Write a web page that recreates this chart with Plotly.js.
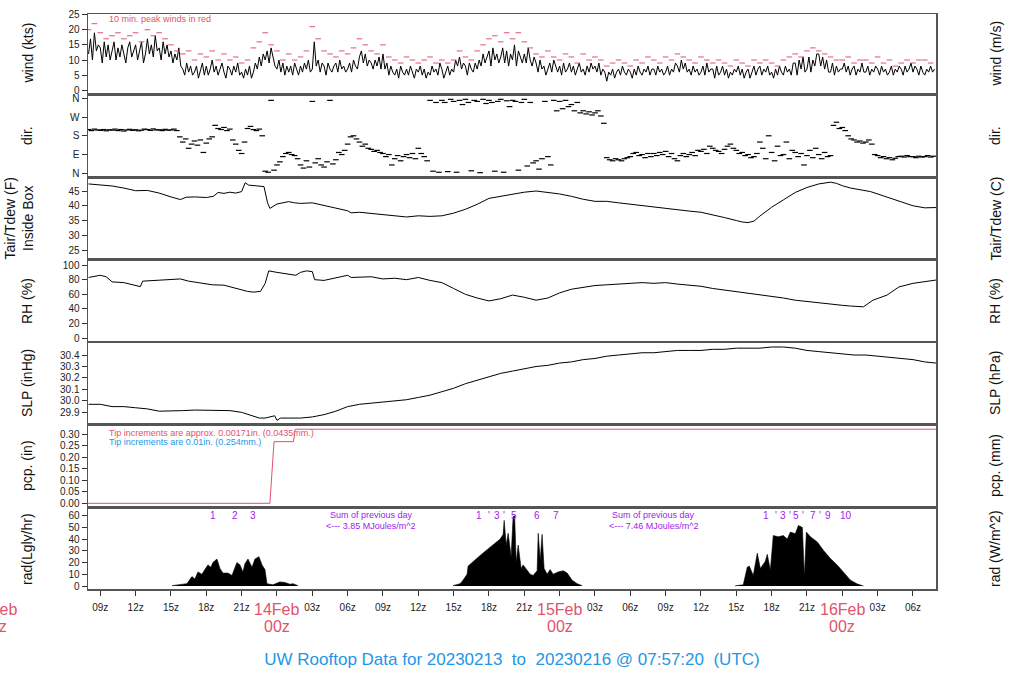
<!DOCTYPE html>
<html><head><meta charset="utf-8">
<script src="https://cdn.plot.ly/plotly-3.0.1.min.js"></script>
<style>html,body{margin:0;padding:0;background:#fff}#chart{width:1024px;height:700px}</style>
</head><body><div id="chart"></div>
<script>
// ---------- DATA (hours since 13 Feb 2023 00z) ----------
const xStart = 7.9556, xEnd = 79.9556;

const windT0 = 8, windDt = 1/6;
const windKts = [
 12,17,10,19,13,15, 14,9,16,11,15,10, 13,16,10,14,11,15, 12,9,14,16,11,13,
 15,10,13,16,9,12, 17,12,15,11,18,13, 14,10,16,12,15,11, 13,9,12,10,14,8,
 7,5,9,6,8,5, 6,8,4,7,9,5, 8,5,7,10,6,8, 5,7,9,6,4,8,
 7,5,8,6,9,5, 6,4,7,5,8,4, 6,9,7,11,8,12, 10,13,9,14,11,8,
 7,10,6,9,5,8, 6,8,5,9,7,5, 8,6,9,7,10,6, 7,16,8,10,6,9,
 8,5,9,7,6,8, 9,6,10,7,8,6, 7,9,6,10,8,7, 11,13,9,12,8,10,
 9,7,10,8,11,7, 12,7,9,5,8,6, 5,7,4,8,6,5, 7,5,8,6,4,7,
 6,8,5,7,4,6, 5,8,6,7,5,9, 7,4,6,8,5,7, 6,10,8,11,7,9,
 8,5,9,7,6,9, 7,10,8,12,9,11, 13,8,14,10,12,9, 11,14,9,13,8,12,
 10,15,8,13,11,9, 12,9,14,10,8,11, 9,6,10,7,8,5, 7,9,6,10,8,6,
 8,5,9,6,7,9, 6,8,5,7,9,6, 7,5,8,6,9,7, 8,6,9,5,7,6,
 3,6,5,7,4,6, 7,5,8,6,5,7, 6,4,7,5,8,6, 5,7,6,8,5,7,
 7,5,8,6,7,5, 6,8,5,7,6,9, 8,6,10,7,9,6, 7,5,8,6,7,5,
 6,8,5,9,6,7, 7,4,8,5,6,8, 5,7,4,6,5,7, 6,8,5,7,4,6,
 7,4,6,8,5,7, 8,5,7,6,8,5, 6,4,7,5,8,6, 5,8,6,7,5,9,
 9,5,10,7,11,6, 7,11,6,10,8,12, 12,8,11,7,10,6, 6,9,5,8,6,7,
 7,9,6,8,5,7, 8,5,7,6,9,6, 6,8,5,7,6,8, 7,5,8,6,7,5,
 6,8,5,7,6,8, 7,5,8,6,7,9, 6,8,7,5,8,6, 5,7,6,8,6,7
];

const peakT0 = 8, peakDt = 0.5;
const peakKts = [
 20,22, 19,17, 18,19, 17,18, 19,16, 20,18, 19,17, 15,13,
 12,13, 10,12, 11,13, 10,12, 10,11, 9,10, 14,16, 19,15,
 13,10, 12,10, 11,13, 21,17, 13,12, 11,13, 12,14, 17,15,
 13,12, 15,11, 10,9, 11,10, 9,10, 11,9, 10,9, 10,13,
 11,10, 13,15, 17,18, 16,19, 17,19, 16,14, 12,11, 13,11,
 10,12, 11,9, 12,10, 11,10, 8,9, 10,9, 8,10, 9,11,
 10,9, 11,10, 12,11, 10,9, 11,10, 9,10, 9,8, 10,9,
 8,10, 9,10, 9,8, 10,11, 12,11, 13,14, 13,12, 11,10,
 10,11, 9,10, 10,9, 11,9, 10,8, 9,10, 9,10, 10,9
];

const dirT0 = 8, dirDt = 0.25;
const dirDeg = [
 210,205,212,208, 206,210,204,209, 207,212,205,210, 203,208,211,206,
 209,204,207,212, 210,206,213,208, 209,205,211,207, 208,212,205,175,
 150,165,120,140, 155,135,160,100, 145,165,175,230, 215,210,220,205,
 212,160,140,110, 95,150,215,225, 210,205,212,180, 10,5,350,15,
 40,55,80,95, 100,90,85,70, 40,25,60,30, 345,50,70,40,
 30,55,350,45, 65,100,90,110, 140,175,180,165, 150,130,140,120,
 115,105,110,100, 95,80,90,40, 70,85,60,80, 90,75,95,70,
 120,95,80,60, 350,10,340,5, 350,340,8,355, 345,5,350,330,
 355,340,12,350, 345,3,355,335, 350,340,10,345, 355,5,348,320,
 350,345,15,340, 355,35,340,50, 60,20,70,345, 80,40,350,300,
 345,310,350,320, 330,300,340,290, 300,285,295,280, 290,300,275,240,
 75,65,60,70, 65,60,70,75, 80,95,100,85, 90,75,95,80,
 95,85,100,90, 105,80,95,70, 60,85,95,80, 90,100,85,110,
 105,115,95,130, 120,110,105,95, 115,130,140,120, 110,95,100,85,
 90,75,80,95, 150,120,70,180, 100,60,130,85, 90,150,70,110,
 100,80,95,40, 85,110,75,120, 90,70,100,80, 85,230,245,215,
 220,205,180,165, 160,150,155,145, 150,160,140,90, 85,75,80,70,
 75,65,72,80, 82,78,85,80, 80,75,82,78, 80,85,78,82
];

const tempHours = [8,9,10,11,12,13,14,15,15.8,16.3,17,18,18.6,19,19.5,20,20.5,21,21.3,21.6,22,22.5,22.9,23.2,23.4,24,25,25.5,26,27,28,29,30,30.3,31,32,33,34,35,36,37,38,39,40,41,42,43,44,45,46,47,48,49,50,51,52,53,54,55,56,57,58,59,60,61,62,63,63.5,64,64.5,65,66,67,68,69,70,71,71.5,72,72.7,74.4,76,77,78,79,79.95];
const tempF = [47.4,47.0,46.7,46.0,45.1,45.2,44.3,43.0,42.1,42.9,43.0,42.8,43.2,44.5,44.2,44.6,44.3,44.8,47.8,47.0,46.9,46.6,46.5,41.0,39.1,40.6,41.4,41.0,40.8,41.0,40.0,39.2,38.3,37.6,37.8,37.4,37.0,36.8,36.2,36.6,36.4,36.6,37.5,38.8,40.5,42.5,43.2,44.0,44.6,45.0,44.6,44.0,43.2,42.2,41.5,41.5,41.0,40.5,40.0,39.5,39.0,38.6,38.2,37.8,37.0,36.0,35.0,34.5,34.3,34.8,36.5,39.5,42.0,44.5,46.2,47.4,48.0,47.6,46.8,46.0,44.8,42.6,41.2,40.0,39.3,39.4];

const rhHours = [8,9,9.5,10,11,11.5,12.4,12.6,14,15,15.8,16.5,17.5,18.5,19.5,20.5,21.5,22,22.6,23.0,23.3,24,25,25.6,26,26.5,27.0,27.2,28,29,30,30.3,31,32,33,34,35,36,37,38,39,40,41,42,43,44,45,46,47,48,49,50,51,52,53,54,55,56,57,58,59,60,61,62,63,64,65,66,67,68,69,70,71,72,72.7,73.8,74.6,75.8,76.8,78,79.95];
const rhPct = [83,86,84,77,76,74,70.5,78,79,80,81,78,76,73,72.5,68,64,63,64,75,92,90,88,86,90,92,91,80,79,82,86,83,83,84,81,82,80,83,79,76,68,60,55,51,54,59,56,52,55,62,67,70,72,73,74,75,76,75,76,74,73,71,68,66,63,62,59,57,55,52,50,48,46,45,44,43,52,59,70,75,79.5];

const slpHours = [8,9,10,11,12,13,14,15,16,17,18,19,20,21,22,22.5,23,23.8,24,24.3,25,26,27,28,29,30,31,32,33,34,35,36,37,38,39,40,41,42,43,44,45,46,47,48,49,50,51,52,53,54,55,56,57,58,59,60,61,62,63,64,65,66,67,68,69,70,71,72,73,74,75,76,77,78,79,79.95];
const slpInHg = [29.97,29.97,29.95,29.95,29.94,29.93,29.91,29.91,29.915,29.92,29.92,29.915,29.915,29.90,29.87,29.85,29.85,29.87,29.83,29.85,29.85,29.85,29.86,29.88,29.91,29.95,29.97,29.98,29.99,30.00,30.01,30.03,30.05,30.08,30.11,30.15,30.18,30.21,30.24,30.26,30.28,30.30,30.31,30.33,30.34,30.36,30.37,30.39,30.40,30.41,30.42,30.42,30.43,30.44,30.44,30.44,30.45,30.45,30.46,30.46,30.46,30.47,30.47,30.46,30.44,30.43,30.42,30.41,30.40,30.40,30.39,30.38,30.37,30.36,30.34,30.33];

const pcpHours = [7.9556,23.4,23.75,25.4,25.55,79.9556];
const pcpIn = [0,0,0.268,0.268,0.322,0.322];

const radDay1Hours = [15.08,15.76,16.35,16.78,17.03,17.29,17.63,17.88,18.14,18.39,18.56,18.90,19.16,19.41,19.84,20.18,20.43,20.60,20.86,21.11,21.28,21.54,21.88,22.13,22.47,22.73,22.98,23.15,23.66,24.25,24.68,25.10,25.36,25.78];
const radDay1Ly = [0.3,1,2,8,6,12,10,14,18,16,20,23,15,11,11,9,15,20,18,12,19,23,16,23,25,18,14,2,1,3.5,3,1.5,2,0.3];
const radDay2Hours = [38.95,39.55,39.80,40.14,40.23,40.65,41.25,41.84,42.35,42.95,43.20,43.29,43.46,43.63,43.88,44.05,44.18,44.31,44.48,44.73,44.90,45.24,45.50,45.75,46.09,46.18,46.35,46.51,46.68,46.94,47.19,47.45,47.87,48.30,48.64,49.06,49.49,49.91];
const radDay2Ly = [0.3,2,5,10,17,21,26,31,35,40,44,56,35,45,25,59,60,20,35,15,18,14,10,9,13,45,22,44,15,10,14,10,12,13,11,5,2,0.3];
const radDay3Hours = [62.91,63.59,63.93,64.10,64.44,64.78,65.04,65.46,65.63,65.89,66.14,66.57,66.99,67.33,67.59,68.01,68.27,68.61,68.78,68.95,69.29,69.88,70.39,70.99,71.58,72.10,72.69,73.28,73.79];
const radDay3Ly = [0.2,1,16,17,9,28,15,21,27,13.5,43,42,43,40,46,44.6,51.6,50,8,46,42,37.5,30.5,23.4,17.8,12,5,1.7,0];

const xTickHours = [9,12,15,18,21,24,27,30,33,36,39,42,45,48,51,54,57,60,63,66,69,72,75,78];
const xTickLabels = ['09z','12z','15z','18z','21z','','03z','06z','09z','12z','15z','18z','21z','','03z','06z','09z','12z','15z','18z','21z','','03z','06z'];
const dateHours = [0,24,48,72];
const dateLabels = ['13Feb','14Feb','15Feb','16Feb'];

const radMarkHours = [18.56,20.4,21.96, 41.16,42.0,42.66,43.3,44.1,46.06,47.7, 65.52,66.4,67.0,67.6,68.1,68.7,69.5,70.1,70.8,72.3];
const radMarkLabels = ['1','2','3', '1',"'",'3',"'",'5','6','7', '1',"'",'3',"'",'5',"'",'7',"'",'9','10'];
const radSumHours = [32,56];
const radSumValues = ['3.85','7.46'];

// ---------- LAYOUT ----------
const seq = (t0, dt, n) => Array.from({length:n}, (_, i) => t0 + i*dt);
const RED = '#DF536B', BLUE = '#2297E6', PURPLE = '#A020F0';
const FONT = 'Liberation Sans, Arial, Helvetica, sans-serif';
const W = 1024, H = 700, ML = 88, MR = 88, MT = 14, MB = 111;
const plotH = H - MT - MB;
const panelTop = [14,96,179,261,343,426,509];
const panelBot = [93,176,258,341,423,506,589];
const dom = i => [(H - MB - panelBot[i]) / plotH, (H - MB - panelTop[i]) / plotH];
const py = p => (H - MB - p) / plotH;
const px = p => (p - ML) / (W - ML - MR);
const hx = h => (h - xStart) / (xEnd - xStart);

const KT_MS = 1/1.94384, INHG_HPA = 33.8639, IN_MM = 25.4, LY_WM2 = 11.622;
const leftRanges = [[-0.9,25.2],[-13,371],[22.3,49.07],[-3.7,105.5],[29.807,30.505],[-0.0117,0.336],[-2.56,65.7]];
const rightRanges = [
  leftRanges[0].map(v => v*KT_MS),
  leftRanges[1],
  leftRanges[2].map(v => (v-32)/1.8),
  leftRanges[3],
  leftRanges[4].map(v => v*INHG_HPA),
  leftRanges[5].map(v => v*IN_MM),
  leftRanges[6].map(v => v*LY_WM2)
];
const leftTicks = [
  {tickvals:[0,5,10,15,20,25]},
  {tickvals:[0,90,180,270,360], ticktext:['N','E','S','W','N']},
  {tickvals:[25,30,35,40,45]},
  {tickvals:[0,20,40,60,80,100]},
  {tickvals:[29.9,30.0,30.1,30.2,30.3,30.4], tickformat:'.1f'},
  {tickvals:[0,0.05,0.10,0.15,0.20,0.25,0.30], tickformat:'.2f'},
  {tickvals:[0,10,20,30,40,50,60]}
];
const rightTicks = [
  {tickvals:[0,2,4,6,8,10,12]},
  {tickvals:[0,90,180,270,360], ticktext:['N','E','S','W','N']},
  {tickvals:[-5,0,5]},
  {tickvals:[0,20,40,60,80,100]},
  {tickvals:[1010,1015,1020,1025,1030]},
  {tickvals:[0,2,4,6,8]},
  {tickvals:[0,200,400,600]}
];
const leftTitles = ['wind (kts)','dir.','Tair/Tdew (F)<br>Inside Box','RH (%)','SLP (inHg)','pcp. (in)','rad(Lgly/hr)'];
const rightTitles = ['wind (m/s)','dir.','Tair/Tdew (C)','RH (%)','SLP (hPa)','pcp. (mm)','rad (W/m^2)'];

const tickFont = {family: FONT, size: 10, color: '#222'};
const layout = {
  width: W, height: H, margin: {l: ML, r: MR, t: MT, b: MB},
  paper_bgcolor: '#fff', plot_bgcolor: '#fff', showlegend: false,
  font: {family: FONT, color: '#222'},
  title: {text: 'UW Rooftop Data for 20230213  to  20230216 @ 07:57:20  (UTC)',
          font: {family: FONT, size: 17, color: BLUE},
          x: 0.5, xanchor: 'center', xref: 'container', y: 1 - 659/H, yanchor: 'middle', yref: 'container'},
  annotations: []
};

for (let i = 0; i < 7; i++) {
  const n = i + 1;
  const xk = n === 1 ? 'xaxis' : 'xaxis' + n;
  const yk = n === 1 ? 'yaxis' : 'yaxis' + n;
  const xa = n === 1 ? 'x' : 'x' + n;
  const ya = n === 1 ? 'y' : 'y' + n;
  layout[xk] = {
    domain: [0, 1], anchor: ya, range: [xStart, xEnd], showgrid: false, zeroline: false,
    showline: true, mirror: true, linecolor: '#555', linewidth: 1.5,
    ticks: '', showticklabels: false, fixedrange: true
  };
  if (n === 7) {
    Object.assign(layout[xk], {
      ticks: 'outside', ticklen: 5, tickcolor: '#333', tickwidth: 1,
      tickvals: xTickHours, ticktext: xTickLabels, showticklabels: true,
      tickfont: tickFont, ticklabelstandoff: 3
    });
  }
  layout[yk] = Object.assign({
    domain: dom(i), anchor: xa, range: leftRanges[i], showgrid: false, zeroline: false,
    showline: true, mirror: true, linecolor: '#555', linewidth: 1.5,
    ticks: 'outside', ticklen: 5, tickcolor: '#333', tickwidth: 1, tickfont: tickFont,
    tickmode: 'array', fixedrange: true
  }, leftTicks[i]);
  const rk = 'yaxis' + (n + 7);
  layout[rk] = Object.assign({
    overlaying: ya, anchor: xa, side: 'right', range: rightRanges[i],
    showgrid: false, zeroline: false, showline: false,
    ticks: 'outside', ticklen: 5, tickcolor: '#333', tickwidth: 1, tickfont: tickFont,
    tickmode: 'array', ticklabelstandoff: 4, fixedrange: true
  }, rightTicks[i]);

  const yc = py((panelTop[i] + panelBot[i]) / 2);
  layout.annotations.push({
    text: leftTitles[i], xref: 'paper', yref: 'paper', x: i === 2 ? px(18) : px(27), y: yc,
    textangle: -90, showarrow: false, xanchor: 'center', yanchor: 'middle',
    font: {family: FONT, size: 14, color: '#111'}
  });
  layout.annotations.push({
    text: rightTitles[i], xref: 'paper', yref: 'paper', x: px(995), y: yc,
    textangle: -90, showarrow: false, xanchor: 'center', yanchor: 'middle',
    font: {family: FONT, size: 14, color: '#111'}
  });
}

// panel texts
layout.annotations.push({text: '10 min. peak winds in red', xref: 'paper', yref: 'paper',
  x: px(107), y: py(19), xanchor: 'left', yanchor: 'middle', showarrow: false,
  font: {family: FONT, size: 9, color: RED}});
layout.annotations.push({text: 'Tip increments are approx. 0.00171in. (0.0435mm.)', xref: 'paper', yref: 'paper',
  x: px(107), y: py(433), xanchor: 'left', yanchor: 'middle', showarrow: false,
  font: {family: FONT, size: 9, color: RED}});
layout.annotations.push({text: 'Tip increments are 0.01in. (0.254mm.)', xref: 'paper', yref: 'paper',
  x: px(107), y: py(441.7), xanchor: 'left', yanchor: 'middle', showarrow: false,
  font: {family: FONT, size: 9, color: BLUE}});
radSumHours.forEach((h, k) => {
  layout.annotations.push({text: 'Sum of previous day', xref: 'x7', yref: 'paper',
    x: h, y: py(514.7), xanchor: 'center', yanchor: 'middle', showarrow: false,
    font: {family: FONT, size: 9, color: PURPLE}});
  layout.annotations.push({text: '<--- ' + radSumValues[k] + ' MJoules/m^2', xref: 'x7', yref: 'paper',
    x: h, y: py(525.7), xanchor: 'center', yanchor: 'middle', showarrow: false,
    font: {family: FONT, size: 9, color: PURPLE}});
});
radMarkHours.forEach((h, k) => {
  layout.annotations.push({text: radMarkLabels[k], xref: 'x7', yref: 'paper',
    x: h, y: py(515), xanchor: 'center', yanchor: 'middle', showarrow: false,
    font: {family: FONT, size: 10, color: PURPLE}});
});
dateHours.forEach((h, k) => {
  layout.annotations.push({text: dateLabels[k], xref: 'paper', yref: 'paper',
    x: hx(h), y: py(609), xanchor: 'center', yanchor: 'middle', showarrow: false,
    font: {family: FONT, size: 16, color: RED}});
  layout.annotations.push({text: '00z', xref: 'paper', yref: 'paper',
    x: hx(h), y: py(626), xanchor: 'center', yanchor: 'middle', showarrow: false,
    font: {family: FONT, size: 16, color: RED}});
});

// ---------- TRACES ----------
const radTrace = (xs, ys) => ({x: xs, y: ys, xaxis: 'x7', yaxis: 'y7', type: 'scatter', mode: 'lines',
  fill: 'tozeroy', fillcolor: '#000', line: {color: '#000', width: 0.6}, hoverinfo: 'skip'});
const traces = [
  {x: seq(windT0, windDt, windKts.length), y: windKts, xaxis: 'x', yaxis: 'y', type: 'scatter', mode: 'lines',
   line: {color: '#000', width: 1}, hoverinfo: 'skip'},
  {x: seq(peakT0, peakDt, peakKts.length), y: peakKts, xaxis: 'x', yaxis: 'y', type: 'scatter', mode: 'markers',
   marker: {symbol: 'line-ew', size: 4, color: RED, line: {color: RED, width: 1}}, hoverinfo: 'skip'},
  {x: seq(dirT0, dirDt, dirDeg.length), y: dirDeg, xaxis: 'x2', yaxis: 'y2', type: 'scatter', mode: 'markers',
   marker: {symbol: 'line-ew', size: 4, color: '#000', line: {color: '#000', width: 1.2}}, hoverinfo: 'skip'},
  {x: tempHours, y: tempF, xaxis: 'x3', yaxis: 'y3', type: 'scatter', mode: 'lines',
   line: {color: '#000', width: 1}, hoverinfo: 'skip'},
  {x: rhHours, y: rhPct, xaxis: 'x4', yaxis: 'y4', type: 'scatter', mode: 'lines',
   line: {color: '#000', width: 1}, hoverinfo: 'skip'},
  {x: slpHours, y: slpInHg, xaxis: 'x5', yaxis: 'y5', type: 'scatter', mode: 'lines',
   line: {color: '#000', width: 1}, hoverinfo: 'skip'},
  {x: pcpHours, y: pcpIn, xaxis: 'x6', yaxis: 'y6', type: 'scatter', mode: 'lines',
   line: {color: RED, width: 1}, hoverinfo: 'skip'},
  radTrace(radDay1Hours, radDay1Ly),
  radTrace(radDay2Hours, radDay2Ly),
  radTrace(radDay3Hours, radDay3Ly)
];

Plotly.newPlot('chart', traces, layout, {staticPlot: true, displayModeBar: false});
</script>
</body></html>
